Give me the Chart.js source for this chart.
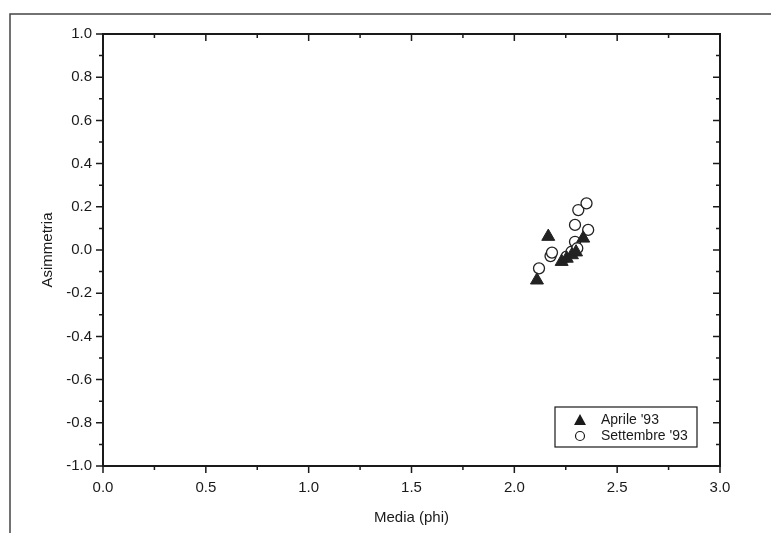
<!DOCTYPE html>
<html>
<head>
<meta charset="utf-8">
<script src="https://cdn.jsdelivr.net/npm/chart.js@4/dist/chart.umd.min.js"></script>
<style>
  html, body { margin: 0; padding: 0; background: #fff; }
  #wrap { width: 771px; height: 533px; position: relative; }
</style>
</head>
<body>
<div id="wrap"><canvas id="c" width="771" height="533"></canvas></div>
<script>
// values
const aprileX = [2.11, 2.165, 2.23, 2.255, 2.28, 2.30, 2.335];
const aprileY = [-0.14, 0.062, -0.054, -0.039, -0.023, -0.01, 0.054];
const settX = [2.12, 2.176, 2.183, 2.254, 2.278, 2.295, 2.306, 2.295, 2.311, 2.351, 2.359];
const settY = [-0.085, -0.028, -0.012, -0.031, -0.008, 0.038, 0.008, 0.116, 0.185, 0.216, 0.093];
const seriesNames = ["Aprile '93", "Settembre '93"];
const xTicks = [0.0, 0.5, 1.0, 1.5, 2.0, 2.5, 3.0];
const yTicks = [-1.0, -0.8, -0.6, -0.4, -0.2, 0.0, 0.2, 0.4, 0.6, 0.8, 1.0];

const FONT = "'Liberation Sans Narrow', 'Liberation Sans', Arial, sans-serif";
const INK = '#1a1a1a';

const pts = (xs, ys) => xs.map((x, i) => ({x: x, y: ys[i]}));

// axis frame, tick marks, outer border and legend box
const decor = {
  id: 'decor',
  afterDraw(chart) {
    const {ctx, chartArea: a, scales: {x, y}} = chart;
    ctx.save();
    // outer page border
    ctx.strokeStyle = '#444';
    ctx.lineWidth = 1.5;
    ctx.beginPath();
    ctx.moveTo(10, 533); ctx.lineTo(10, 14); ctx.lineTo(771, 14);
    ctx.stroke();

    ctx.strokeStyle = INK;
    ctx.lineWidth = 2;
    ctx.strokeRect(a.left, a.top, a.right - a.left, a.bottom - a.top);

    ctx.lineWidth = 1.5;
    ctx.beginPath();
    for (let v = 0; v <= 3.0001; v += 0.25) {
      const px = x.getPixelForValue(v);
      const major = Math.abs(v * 2 - Math.round(v * 2)) < 1e-6;
      const len = major ? 7 : 4;
      ctx.moveTo(px, a.bottom); ctx.lineTo(px, a.bottom + len);
      ctx.moveTo(px, a.top); ctx.lineTo(px, a.top + len);
    }
    for (let k = -10; k <= 10; k++) {
      const py = y.getPixelForValue(k / 10);
      const len = (k % 2 === 0) ? 7 : 4;
      ctx.moveTo(a.left, py); ctx.lineTo(a.left - len, py);
      ctx.moveTo(a.right, py); ctx.lineTo(a.right - len, py);
    }
    ctx.stroke();

    // legend
    const bx = 555, by = 407, bw = 142, bh = 40;
    ctx.lineWidth = 1.2;
    ctx.strokeRect(bx, by, bw, bh);
    ctx.font = '14px ' + FONT;
    ctx.fillStyle = INK;
    ctx.textBaseline = 'middle';
    ctx.textAlign = 'left';
    const rows = [by + 13, by + 29];
    // triangle marker
    ctx.beginPath();
    ctx.moveTo(580, rows[0] - 6); ctx.lineTo(586, rows[0] + 5); ctx.lineTo(574, rows[0] + 5);
    ctx.closePath(); ctx.fill();
    // circle marker
    ctx.beginPath();
    ctx.arc(580, rows[1], 4.5, 0, Math.PI * 2);
    ctx.stroke();
    ctx.fillText(seriesNames[0], 601, rows[0]);
    ctx.fillText(seriesNames[1], 601, rows[1]);
    ctx.restore();
  }
};

new Chart(document.getElementById('c'), {
  type: 'scatter',
  data: {
    datasets: [
      {
        label: seriesNames[0],
        data: pts(aprileX, aprileY),
        pointStyle: 'triangle',
        pointRadius: 7.5,
        backgroundColor: '#222',
        borderColor: '#222',
        borderWidth: 1
      },
      {
        label: seriesNames[1],
        data: pts(settX, settY),
        pointStyle: 'circle',
        pointRadius: 5.5,
        backgroundColor: '#fff',
        borderColor: '#222',
        borderWidth: 1.3
      }
    ]
  },
  options: {
    responsive: false,
    animation: false,
    layout: { padding: { left: 0, top: 34, right: 51, bottom: 0 } },
    plugins: { legend: { display: false }, tooltip: { enabled: false } },
    scales: {
      x: {
        type: 'linear', min: 0, max: 3,
        afterFit(s) { s.height = 67; },
        afterBuildTicks(s) { s.ticks = xTicks.map(v => ({value: v})); },
        grid: { display: false, drawTicks: false },
        border: { display: false },
        ticks: {
          padding: 13, color: INK, font: { family: FONT, size: 15 },
          callback: v => v.toFixed(1)
        },
        title: {
          display: true, text: 'Media (phi)', color: INK,
          font: { family: FONT, size: 15 }, padding: { top: 0, bottom: 6 }
        }
      },
      y: {
        type: 'linear', min: -1, max: 1,
        afterFit(s) { s.width = 103; },
        afterBuildTicks(s) { s.ticks = yTicks.map(v => ({value: v})); },
        grid: { display: false, drawTicks: false },
        border: { display: false },
        ticks: {
          padding: 11, color: INK, font: { family: FONT, size: 15 },
          callback: v => v.toFixed(1)
        },
        title: {
          display: true, text: 'Asimmetria', color: INK,
          font: { family: FONT, size: 15 }, padding: { top: 39, bottom: 0 }
        }
      }
    }
  },
  plugins: [decor]
});
</script>
</body>
</html>
